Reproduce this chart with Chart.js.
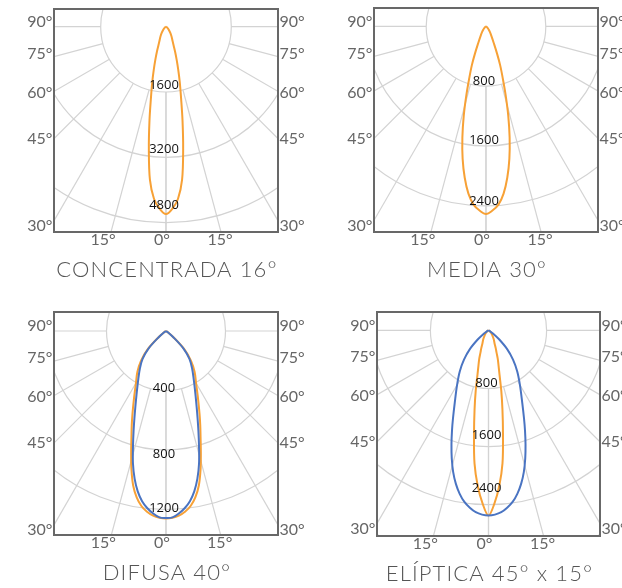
<!DOCTYPE html>
<html>
<head>
<meta charset="utf-8">
<script src="https://cdn.jsdelivr.net/npm/chart.js@4.4.1/dist/chart.umd.min.js"></script>
<style>
  body { margin: 0; background: #fff; }
  #wrap { position: relative; width: 622px; height: 588px; overflow: hidden; }
  canvas { position: absolute; }
</style>
</head>
<body>
<div id="wrap">
  <canvas id="c1" width="311" height="294" style="left:0;top:0"></canvas>
  <canvas id="c2" width="311" height="294" style="left:311px;top:0"></canvas>
  <canvas id="c3" width="311" height="294" style="left:0;top:294px"></canvas>
  <canvas id="c4" width="311" height="294" style="left:311px;top:294px"></canvas>
</div>
<script>
// angle from nadir (deg); curves are symmetric, only one half is listed
const angles = [0, 2, 4, 6, 8, 10, 12, 14, 16, 18, 20, 22, 25, 30, 35, 40, 45, 50, 55, 60, 70, 80, 90];

// luminous intensity (cd)
const concentradaOrange = [4590, 4463, 4225, 3770, 3020, 2330, 1770, 1390, 1080, 840, 652, 502, 378, 268, 180, 120, 80, 50, 30, 15, 5, 0, 0];
const mediaOrange = [2510, 2465, 2390, 2250, 2045, 1800, 1520, 1230, 950, 720, 555, 400, 245, 139, 90, 55, 35, 20, 10, 5, 0, 0, 0];
const difusaBlue = [1257, 1254, 1230, 1198, 1155, 1095, 1015, 918, 805, 705, 620, 550, 468, 372, 305, 245, 165, 60, 12, 3, 0, 0, 0];
const difusaOrange = [1260, 1256, 1244, 1222, 1188, 1135, 1062, 960, 850, 752, 673, 602, 512, 404, 335, 262, 175, 65, 15, 3, 0, 0, 0];
const elipticaBlue = [2548, 2538, 2510, 2455, 2385, 2285, 2160, 2010, 1835, 1650, 1470, 1305, 1100, 865, 690, 525, 360, 190, 80, 25, 0, 0, 0];
const elipticaOrange = [2548, 2380, 2140, 1842, 1433, 1105, 845, 625, 501, 413, 322, 267, 198, 146, 102, 76, 55, 38, 25, 15, 5, 0, 0];

// ring values (also the ring labels)
const concentradaRings = [1600, 3200, 4800];
const mediaRings = [800, 1600, 2400];
const difusaRings = [400, 800, 1200];
const elipticaRings = [800, 1600, 2400];

const spokeAngles = [0, 15, 30, 45, 60, 75, 90];
const sideTicks = [90, 75, 60, 45, 30];
const bottomTicks = [-15, 0, 15];
const titles = ["CONCENTRADA 16°", "MEDIA 30°", "DIFUSA 40°", "ELÍPTICA 45° x 15°"];

const ORANGE = "#f7a136";
const BLUE = "#4a74c2";
const GRID = "#d3d3d3";
const TEXT = "#666";

// little nudges so labels sit like the original
const sideNudge = [-5, -3, 1.5, 0, 5];
const bottomNudge = [-8, -4, -1];

function halfToCurve(values) {
  var pts = [];
  for (var i = angles.length - 1; i >= 0; i--) {
    var a = -angles[i] * Math.PI / 180;
    pts.push({ x: values[i] * Math.sin(a), y: -values[i] * Math.cos(a) });
  }
  for (var j = 1; j < angles.length; j++) {
    var b = angles[j] * Math.PI / 180;
    pts.push({ x: values[j] * Math.sin(b), y: -values[j] * Math.cos(b) });
  }
  return pts;
}

const polarGrid = {
  id: "polarGrid",
  beforeDatasetsDraw(chart, args, opts) {
    const { ctx, chartArea: ca, scales: { x, y } } = chart;
    const cx = x.getPixelForValue(0), cy = y.getPixelForValue(0);
    const step = opts.rings[0];
    const rx = x.getPixelForValue(step) - cx;
    const ry = cy - y.getPixelForValue(step);
    ctx.save();
    ctx.beginPath();
    ctx.rect(ca.left, ca.top, ca.width, ca.height);
    ctx.clip();
    ctx.strokeStyle = GRID;
    ctx.lineWidth = 1.2;
    for (var n = 1; n <= 5; n++) {
      ctx.beginPath();
      ctx.ellipse(cx, cy, rx * n, ry * n, 0, 0, Math.PI * 2);
      ctx.stroke();
    }
    const far = step * 20;
    spokeAngles.forEach(function (a) {
      [-1, 1].forEach(function (s) {
        const t = s * a * Math.PI / 180;
        ctx.beginPath();
        ctx.moveTo(x.getPixelForValue(step * Math.sin(t)), y.getPixelForValue(-step * Math.cos(t)));
        ctx.lineTo(x.getPixelForValue(far * Math.sin(t)), y.getPixelForValue(-far * Math.cos(t)));
        ctx.stroke();
      });
    });
    ctx.restore();
  },
  afterDatasetsDraw(chart, args, opts) {
    const { ctx, chartArea: ca, scales: { x, y } } = chart;
    const cx = x.getPixelForValue(0);
    ctx.save();
    // ring values
    ctx.font = "13px 'Open Sans'";
    ctx.fillStyle = "#111";
    ctx.textAlign = "center";
    ctx.textBaseline = "alphabetic";
    opts.rings.forEach(function (v, i) {
      ctx.fillText(String(v), cx - 2, y.getPixelForValue(-v) + opts.labelNudge[i]);
    });
    // frame
    ctx.strokeStyle = "#686868";
    ctx.lineWidth = 2;
    ctx.strokeRect(ca.left, ca.top, ca.width, ca.height);
    // side angle labels
    ctx.font = "16px Lato";
    ctx.fillStyle = TEXT;
    ctx.textBaseline = "middle";
    sideTicks.forEach(function (a, i) {
      const t = a * Math.PI / 180;
      const yv = x.min * Math.cos(t) / Math.sin(t);
      const py = y.getPixelForValue(yv) + sideNudge[i];
      ctx.textAlign = "right";
      ctx.fillText(a + "°", ca.left - 1.5, py);
      ctx.textAlign = "left";
      ctx.fillText(a + "°", ca.right + 1.5, py);
    });
    // bottom angle labels
    ctx.textAlign = "center";
    ctx.textBaseline = "alphabetic";
    bottomTicks.forEach(function (a, i) {
      const t = a * Math.PI / 180;
      const px = x.getPixelForValue(-y.min * Math.tan(t)) + bottomNudge[i];
      ctx.fillText(Math.abs(a) + "°", px, ca.bottom + 13);
    });
    // title under the frame
    ctx.font = "300 22px Lato";
    ctx.fillStyle = "#555";
    ctx.letterSpacing = "1.1px";
    ctx.fillText(opts.title, (ca.left + ca.right) / 2 + 1, ca.bottom + 44.5);
    ctx.restore();
  }
};

function makeChart(id, title, series, rings, labelNudge, pxPerCd, pad, size, cyOff) {
  const w = size[0], h = size[1];
  const xr = (w / 2) / pxPerCd;
  return new Chart(document.getElementById(id), {
    type: "scatter",
    data: {
      datasets: series.map(function (s) {
        return {
          data: halfToCurve(s.values),
          showLine: true,
          borderColor: s.color,
          borderWidth: 2,
          pointRadius: 0,
          tension: 0.35,
          fill: false,
          clip: 0
        };
      })
    },
    options: {
      responsive: false,
      animation: false,
      devicePixelRatio: 1,
      layout: { padding: { left: pad[0], top: pad[1], right: pad[2], bottom: pad[3] } },
      scales: {
        x: { type: "linear", display: false, min: -xr, max: xr },
        y: { type: "linear", display: false, min: -(h - cyOff) / pxPerCd, max: cyOff / pxPerCd }
      },
      plugins: {
        legend: { display: false },
        tooltip: { enabled: false },
        title: { display: false },
        polarGrid: { rings: rings, labelNudge: labelNudge, title: title }
      }
    },
    plugins: [polarGrid]
  });
}

makeChart("c1", titles[0], [{ values: concentradaOrange, color: ORANGE }], concentradaRings, [-2.6, -4.4, -13.4],
  65.3 / 1600, [54, 9, 33, 62], [224, 223], 17.7);
makeChart("c2", titles[1], [{ values: mediaOrange, color: ORANGE }], mediaRings, [-1.3, -2.4, -1],
  59.8 / 800, [63, 8, 24, 62], [224, 224], 18.4);
makeChart("c3", titles[2], [{ values: difusaBlue, color: BLUE }, { values: difusaOrange, color: ORANGE }], difusaRings, [1.7, 7.7, 2.4],
  59.5 / 400, [54, 18, 33, 53], [224, 223], 19);
makeChart("c4", titles[3], [{ values: elipticaBlue, color: BLUE }, { values: elipticaOrange, color: ORANGE }], elipticaRings, [-1.7, -7.4, -12.3],
  58.1 / 800, [66, 18, 22, 52], [223, 224], 18.4);
</script>
</body>
</html>
